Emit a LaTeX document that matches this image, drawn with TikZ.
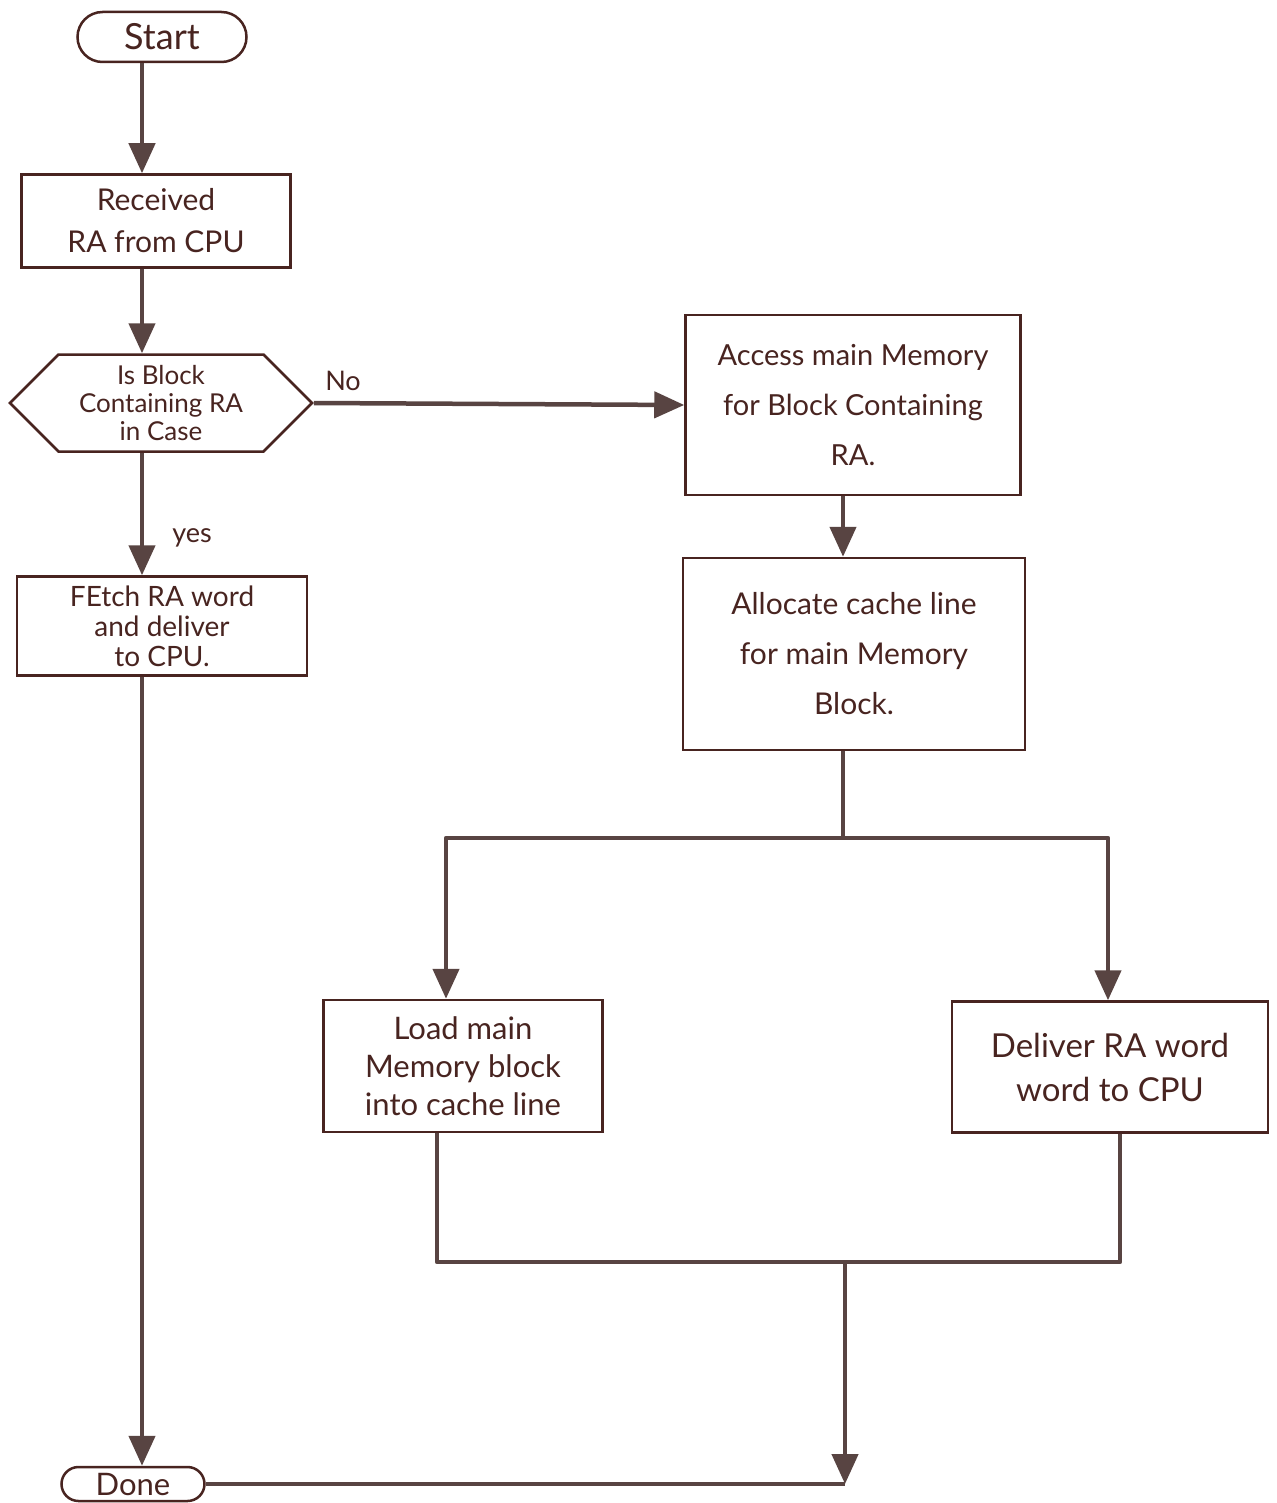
\documentclass[tikz,border=0pt]{standalone}
\usepackage{fontspec}
\setmainfont{Lato}
\usetikzlibrary{arrows.meta,shapes.symbols}
\definecolor{ink}{RGB}{72,36,32}
\definecolor{wirec}{RGB}{88,68,66}
\begin{document}
\begin{tikzpicture}[x=1pt,y=-1pt,
 box/.style={draw=ink,line width=2.5pt,text=ink,align=center,inner sep=0pt,font=\fontsize{28}{42}\selectfont},
 term/.style={box,rounded corners=17pt},
 hexa/.style={box,shape=signal,signal to=west and east,signal pointer angle=90,font=\fontsize{26}{28}\selectfont},
 wire/.style={draw=wirec,line width=4.5pt,line join=round},
 arr/.style={wire,-{Triangle[length=30pt,width=26pt]}},
 lbl/.style={text=ink,font=\fontsize{27}{30}\selectfont}]
\useasboundingbox (0,0) rectangle (1276,1503);
\fill[white] (0,0) rectangle (1276,1503);

\node[term,minimum width=169pt,minimum height=50pt,rounded corners=25pt,font=\fontsize{36}{40}\selectfont] (start) at (162,37) {Start};
\node[box,minimum width=269pt,minimum height=93pt,font=\fontsize{30}{42}\selectfont] (recv) at (156,221) {Received\\RA from CPU};
\node[hexa,minimum width=302pt,minimum height=97pt] (dec) at (161,403) {Is Block\\Containing RA\\in Case};
\node[box,minimum width=335pt,minimum height=180pt,font=\fontsize{29}{50}\selectfont] (access) at (853,405) {Access main Memory\\for Block Containing\\RA.};
\node[box,minimum width=342pt,minimum height=192pt,font=\fontsize{30}{50}\selectfont] (alloc) at (854,654) {Allocate cache line\\for main Memory\\Block.};
\node[box,minimum width=290pt,minimum height=99pt,font=\fontsize{28}{30}\selectfont] (fetch) at (162,626) {FEtch RA word\\and deliver\\to CPU.};
\node[box,minimum width=279pt,minimum height=132pt,font=\fontsize{31}{38}\selectfont] (load) at (463,1066) {Load main\\Memory block\\into cache line};
\node[box,minimum width=316pt,minimum height=131pt,font=\fontsize{33}{44}\selectfont] (deliv) at (1110,1067) {Deliver RA word\\word to CPU};
\node[term,minimum width=143pt,minimum height=34pt,rounded corners=17pt,font=\fontsize{31}{34}\selectfont] (done) at (133,1484) {Done};

\node[lbl] (no) at (343,381) {No};
\node[lbl] (yes) at (192,538) {yes};

\coordinate (sp) at (142,0);
\coordinate (mid) at (843,0);
\coordinate (split) at (843,838);
\coordinate (lsplit) at (446,838);
\coordinate (rsplit) at (1108,838);
\coordinate (ljoin) at (437,1262);
\coordinate (rjoin) at (1120,1262);
\coordinate (merge) at (845,1262);
\coordinate (end) at (845,1484);

\draw[arr] (start.south -| sp) -- (recv.north -| sp);
\draw[arr] (recv.south -| sp) -- (dec.north -| sp);
\draw[arr] (dec.east) -- (access.west);
\draw[arr] (dec.south -| sp) -- (fetch.north -| sp);
\draw[arr] (fetch.south -| sp) -- (done.north -| sp);
\draw[arr] (access.south -| mid) -- (alloc.north -| mid);
\draw[wire] (alloc.south -| mid) -- (split);
\draw[arr] (split) -| (load.north -| lsplit);
\draw[arr] (split) -| (deliv.north -| rsplit);
\draw[wire] (load.south -| ljoin) |- (merge);
\draw[wire] (deliv.south -| rjoin) |- (merge);
\draw[arr] (merge) -- (end);
\draw[wire] (done.east) -- (end);
\end{tikzpicture}
\end{document}
